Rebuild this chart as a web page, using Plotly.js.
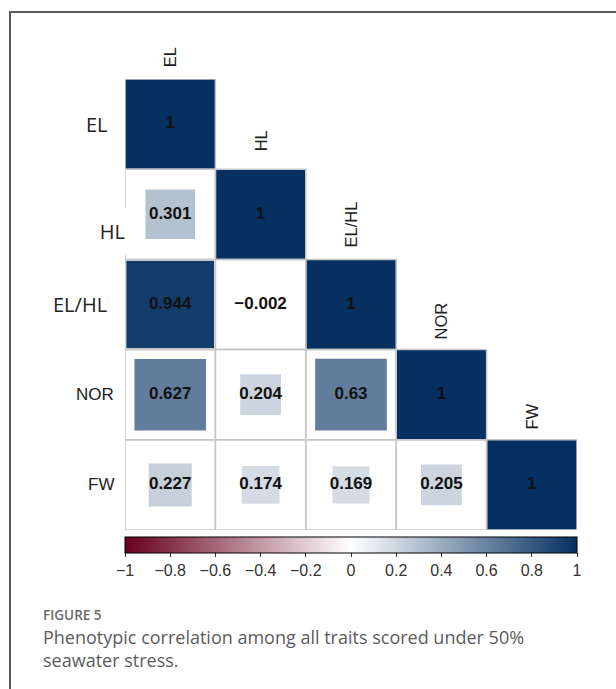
<!DOCTYPE html>
<html><head><meta charset="utf-8">
<script src="https://cdn.plot.ly/plotly-3.0.1.min.js"></script>
<style>
html,body{margin:0;padding:0;background:#fff;}
#wrap{position:relative;width:616px;height:689px;overflow:hidden;background:#fff;}
#chart{position:absolute;left:0;top:0;width:616px;height:689px;}
#frame{position:absolute;left:9px;top:11px;width:700px;height:700px;border-left:2px solid #5a5a5a;border-top:2px solid #5a5a5a;pointer-events:none;}
#figlabel{position:absolute;left:43px;top:606px;font-family:'Open Sans',sans-serif;font-weight:600;font-size:13.5px;color:#6a6a6a;}
#caption{position:absolute;left:43px;top:626px;font-family:'Open Sans',sans-serif;font-size:18px;line-height:23px;color:#5c5c5c;width:570px;}
</style></head>
<body><div id="wrap"><div id="chart"></div><div id="frame"></div>
<div id="figlabel">FIGURE 5</div>
<div id="caption">Phenotypic correlation among all traits scored under 50%<br>seawater stress.</div></div>
<script>
// ---- data ----
const traits = ['EL', 'HL', 'EL/HL', 'NOR', 'FW'];
const corrEL   = [1];
const corrHL   = [0.301, 1];
const corrELHL = [0.944, -0.002, 1];
const corrNOR  = [0.627, 0.204, 0.63, 1];
const corrFW   = [0.227, 0.174, 0.169, 0.205, 1];
const corrRows = [corrEL, corrHL, corrELHL, corrNOR, corrFW];
const colorbarTicks = [-1, -0.8, -0.6, -0.4, -0.2, 0, 0.2, 0.4, 0.6, 0.8, 1];

// ---- layout geometry ----
const W = 616, H = 689;
const M = {l: 125, r: 39, t: 79, b: 159};
const plotW = W - M.l - M.r, plotH = H - M.t - M.b;
const n = traits.length;
const cell = (plotW / n + plotH / n) / 2;

const xs = [], ys = [], vals = [], sizes = [], labels = [];
corrRows.forEach((row, i) => {
  row.forEach((v, j) => {
    xs.push(j); ys.push(i); vals.push(v);
    sizes.push(Math.sqrt(Math.abs(v)) * cell);
    labels.push(String(v).replace('-', '\u2212'));
  });
});

const scale = [[0, '#67001F'], [0.5, '#FFFFFF'], [1, '#053061']];
const sans = 'Liberation Sans, Arial, sans-serif';

const squares = {
  type: 'scatter', mode: 'markers', x: xs, y: ys, hoverinfo: 'skip',
  marker: {
    symbol: 'square', size: sizes, color: vals, cmin: -1, cmax: 1, opacity: 1,
    colorscale: scale, line: {width: 0}, showscale: true,
    colorbar: {
      orientation: 'h', x: 0.5, xanchor: 'center', y: -7 / plotH, yanchor: 'top',
      len: plotW, lenmode: 'pixels', thickness: 16, thicknessmode: 'pixels',
      outlinewidth: 1, outlinecolor: '#000', xpad: 0, ypad: 0,
      ticks: 'outside', ticklen: 4, tickwidth: 1, tickcolor: '#333',
      tickvals: colorbarTicks, tickfont: {family: sans, size: 16, color: '#333'}
    }
  }
};
const numbers = {
  type: 'scatter', mode: 'text', x: xs, y: ys, text: labels, hoverinfo: 'skip',
  textposition: 'middle center',
  textfont: {family: sans, size: 17, color: '#111', weight: 'bold'}
};

const shapes = [];
corrRows.forEach((row, i) => row.forEach((v, j) => {
  shapes.push({type: 'rect', xref: 'x', yref: 'y', x0: j - 0.5, x1: j + 0.5, y0: i - 0.5, y1: i + 0.5,
    line: {color: '#c6c6c6', width: 1.5}, layer: 'above'});
}));

const annotations = [];
// column labels (rotated, above diagonal)
const colGap = [10, 16, 10, 8, 8];
traits.forEach((t, j) => {
  annotations.push({text: t, x: j, y: j - 0.5, xref: 'x', yref: 'y', showarrow: false,
    textangle: -90, xanchor: 'center', yanchor: 'bottom', yshift: colGap[j],
    font: {family: sans, size: 16.5, color: '#222'}});
});
// row labels
const rowStyle = [
  {font: 'Open Sans, sans-serif', size: 20, shift: -15, yshift: 0},
  {font: 'Open Sans, sans-serif', size: 20, shift: 2, yshift: -17, patch: true},
  {font: 'Open Sans, sans-serif', size: 20, shift: -16, yshift: 0},
  {font: sans, size: 17, shift: -9, yshift: 0},
  {font: sans, size: 17, shift: -9, yshift: 0}
];
traits.forEach((t, i) => {
  const s = rowStyle[i];
  const a = {text: t, x: 0, y: i, xref: 'paper', yref: 'y', showarrow: false,
    xanchor: 'right', yanchor: 'middle', xshift: s.shift, yshift: s.yshift,
    font: {family: s.font, size: s.size, color: '#222'}};
  if (s.patch) { a.bgcolor = '#ffffff'; a.width = 30; a.height = 43; a.align = 'right'; }
  annotations.push(a);
});

const layout = {
  width: W, height: H, margin: M, showlegend: false,
  paper_bgcolor: 'rgba(0,0,0,0)', plot_bgcolor: 'rgba(0,0,0,0)',
  xaxis: {range: [-0.5, n - 0.5], showgrid: false, zeroline: false, showticklabels: false, showline: false, fixedrange: true},
  yaxis: {range: [n - 0.5, -0.5], showgrid: false, zeroline: false, showticklabels: false, showline: false, fixedrange: true},
  shapes: shapes, annotations: annotations
};
Plotly.newPlot('chart', [squares, numbers], layout, {displayModeBar: false, staticPlot: true});
</script></body></html>
